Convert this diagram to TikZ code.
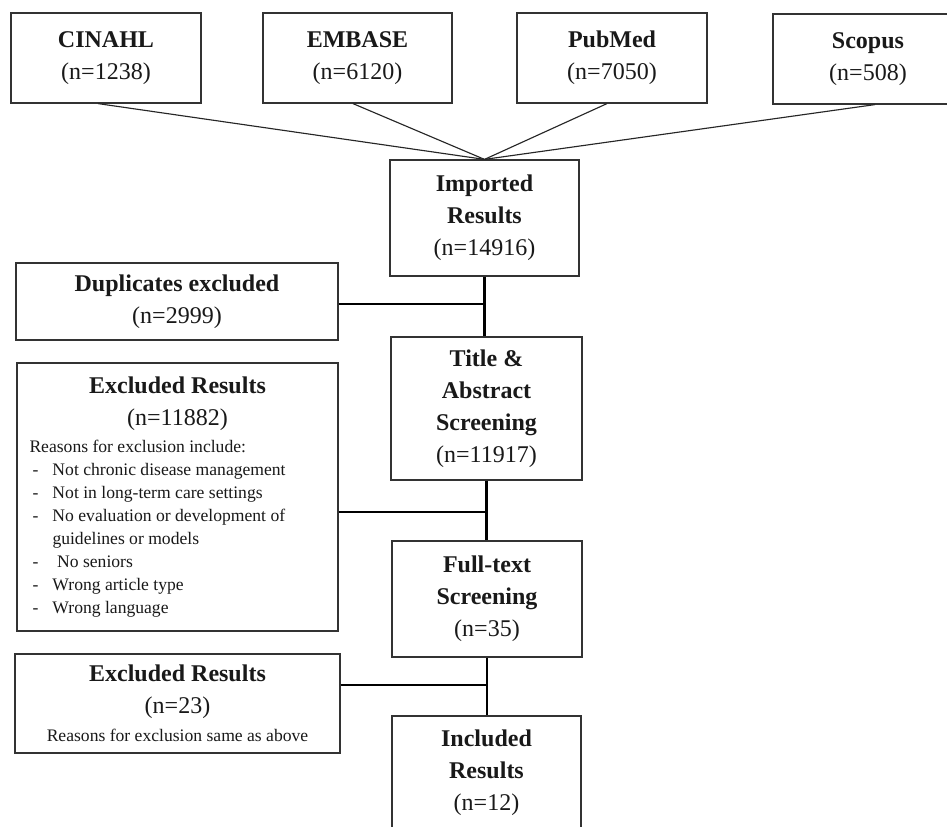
\documentclass[tikz,border=0pt]{standalone}
\usepackage{fontspec}
\setmainfont{Liberation Serif}
\usetikzlibrary{calc}
\begin{document}
\begin{tikzpicture}[x=0.75pt,y=-0.75pt,
  box/.style={draw=black!80, line width=0.9pt, rectangle, inner sep=0pt,
    align=center, font=\fontsize{18}{24}\selectfont, text=black!90},
  plainbox/.style={draw=black!80, line width=0.9pt, rectangle, inner sep=0pt,
    text=black!90},
  thinline/.style={draw=black!85, line width=0.85pt},
  thickline/.style={draw=black, line width=1.6pt}]
\clip (0,0) rectangle (947,827);
\fill[white] (0,0) rectangle (947,827);

% source boxes
\node[box, minimum width=142.5pt, minimum height=67.5pt] (cin) at (106,58)
  {\textbf{CINAHL}\\(n=1238)};
\node[box, minimum width=141.75pt, minimum height=67.5pt] (emb) at (357.5,58)
  {\textbf{EMBASE}\\(n=6120)};
\node[box, minimum width=142.5pt, minimum height=67.5pt] (pub) at (612,58)
  {\textbf{PubMed}\\(n=7050)};
\node[box, minimum width=142.5pt, minimum height=67.5pt] (sco) at (868,59)
  {\textbf{Scopus}\\(n=508)};

% main column
\node[box, minimum width=141.75pt, minimum height=87pt] (imp) at (484.5,218)
  {\textbf{Imported}\\\textbf{Results}\\(n=14916)};
\node[box, minimum width=143.25pt, minimum height=107.25pt] (tit) at (486.5,408.5)
  {\textbf{Title \&}\\\textbf{Abstract}\\\textbf{Screening}\\(n=11917)};
\node[box, minimum width=142.5pt, minimum height=87pt] (ful) at (487,599)
  {\textbf{Full-text}\\\textbf{Screening}\\(n=35)};
\node[box, minimum width=141.75pt, minimum height=84.75pt] (inc) at (486.5,772.5)
  {\textbf{Included}\\\textbf{Results}\\(n=12)};

% exclusion boxes
\node[box, minimum width=241.5pt, minimum height=57.75pt] (dup) at (177,301.5)
  {\textbf{Duplicates excluded}\\(n=2999)};
\node[plainbox, minimum width=240.75pt, minimum height=201pt] (exc1) at (177.5,497)
  {\begin{minipage}{222pt}
   \centering\fontsize{18}{24}\selectfont
   \textbf{Excluded Results}\par
   (n=11882)\par
   \vspace{3pt}
   \raggedright\fontsize{13.2}{17.25}\selectfont
   Reasons for exclusion include:\par
   \hspace*{2.25pt}\makebox[15pt][l]{-}Not chronic disease management\par
   \hspace*{2.25pt}\makebox[15pt][l]{-}Not in long-term care settings\par
   \hspace*{2.25pt}\makebox[15pt][l]{-}No evaluation or development of\par
   \hspace*{17.25pt}guidelines or models\par
   \hspace*{2.25pt}\makebox[15pt][l]{-}\hspace*{3.5pt}No seniors\par
   \hspace*{2.25pt}\makebox[15pt][l]{-}Wrong article type\par
   \hspace*{2.25pt}\makebox[15pt][l]{-}Wrong language\par
   \end{minipage}};
\node[box, minimum width=243.75pt, minimum height=74.25pt] (exc2) at (177.5,703.5)
  {\textbf{Excluded Results}\\(n=23)\\[-3pt]{\fontsize{13.2}{17.25}\selectfont Reasons for exclusion same as above}};

% connectors from sources
\draw[thinline] ([xshift=-6pt]cin.south) -- (imp.north);
\draw[thinline] ([xshift=-3.4pt]emb.south) -- (imp.north);
\draw[thinline] ([xshift=-3.75pt]pub.south) -- (imp.north);
\draw[thinline] ([xshift=5.25pt]sco.south) -- (imp.north);

% main flow
\draw[thickline] (imp.south) -- (imp.south |- tit.north);
\coordinate (j0) at ([yshift=-1.9pt]dup.east);
\draw[thickline] (j0) -- (j0 -| imp.south);

\draw[thickline] (tit.south) -- (tit.south |- ful.north);
\coordinate (j1) at ([yshift=-11.25pt]exc1.east);
\draw[thickline] (j1) -- (j1 -| tit.south);

\draw[thickline] (ful.south) -- (ful.south |- inc.north);
\coordinate (j2) at ([yshift=13.9pt]exc2.east);
\draw[thickline] (j2) -- (j2 -| ful.south);
\end{tikzpicture}
\end{document}
